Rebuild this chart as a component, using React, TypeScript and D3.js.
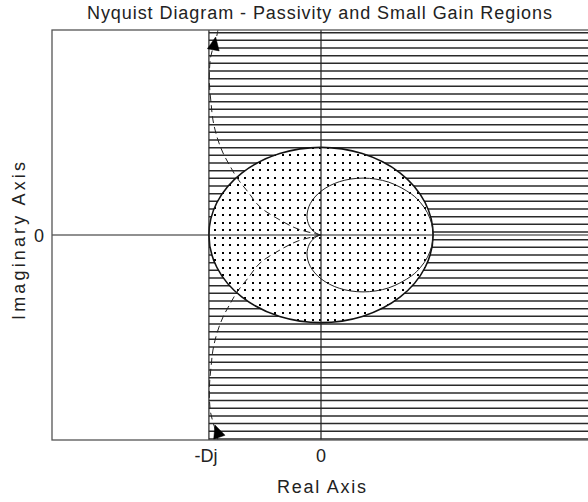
import React from "react";
import * as d3 from "d3";

// ---- data ----
const xDomain = [-2.4, 2.4];
const yDomain = [-2.34, 2.34];
const passivityBound = -1; // -Dj
const smallGainRadius = 1;
const xTickValues = [-1, 0];
const xTickLabels = ["-Dj", "0"];
const yTickValues = [0];
const yTickLabels = ["0"];

// Nyquist loop (solid)
const loopRe = [0, -0.0165, -0.058, -0.1036, -0.125, -0.0959, 0, 0.1629, 0.375, 0.6036, 0.808, 0.8887, 0.9494, 0.9872, 1, 0.9872, 0.9494, 0.8887, 0.808, 0.6036, 0.375, 0.1629, 0, -0.0959, -0.125, -0.1036, -0.058, -0.0165, 0];
const loopIm = [0, -0.0044, -0.0335, -0.1036, -0.2165, -0.358, -0.5, -0.608, -0.6495, -0.6036, -0.4665, -0.3681, -0.2544, -0.13, 0, 0.13, 0.2544, 0.3681, 0.4665, 0.6036, 0.6495, 0.608, 0.5, 0.358, 0.2165, 0.1036, 0.0335, 0.0044, 0];

// dashed branches (upper and lower), from origin outward
const dashUpRe = [0, -0.205, -0.366, -0.544, -0.651, -0.749, -0.812, -0.874, -0.928, -0.964, -0.981, -0.995, -0.995, -0.986, -0.964, -0.928, -0.92];
const dashUpIm = [0, 0.068, 0.171, 0.32, 0.491, 0.651, 0.788, 0.936, 1.119, 1.313, 1.507, 1.712, 1.884, 2.021, 2.135, 2.283, 2.34];
const dashLoRe = [0, -0.205, -0.366, -0.544, -0.651, -0.749, -0.812, -0.874, -0.928, -0.964, -0.981, -0.995, -0.995, -0.986, -0.964, -0.928, -0.92];
const dashLoIm = [0, -0.068, -0.171, -0.32, -0.491, -0.651, -0.788, -0.936, -1.119, -1.313, -1.507, -1.712, -1.884, -2.021, -2.135, -2.283, -2.34];

// arrows: tip and tail point in data coordinates
const arrowTips = [[-0.94, 2.26], [-0.946, -2.169]];
const arrowTails = [[-0.96, 2.12], [-0.906, -2.312]];

const W = 588;
const H = 502;
const left = 52, right = 590, top = 30, bottom = 440;

export default function App() {
  const x = d3.scaleLinear().domain(xDomain).range([left, right]);
  const y = d3.scaleLinear().domain(yDomain).range([bottom, top]);

  const line = d3
    .line<[number, number]>()
    .x((d) => x(d[0]))
    .y((d) => y(d[1]))
    .curve(d3.curveCatmullRom.alpha(0.5));

  const loopPts = loopRe.map((r, i) => [r, loopIm[i]] as [number, number]);
  const upPts = dashUpRe.map((r, i) => [r, dashUpIm[i]] as [number, number]);
  const loPts = dashLoRe.map((r, i) => [r, dashLoIm[i]] as [number, number]);

  // hatch lines (decorative pattern of passivity region)
  const hatchY = d3.range(32.7, bottom + 0.5, 7.665);
  // dot pattern of small gain disc
  const cx = x(0), cy = y(0);
  const rx = x(smallGainRadius) - x(0);
  const ry = y(0) - y(smallGainRadius);
  const dotXs = d3.range(215 - 7.5 * 2, cx + rx + 8, 7.5);
  const dotYs = d3.range(155 - 7.5 * 2, cy + ry + 8, 7.5);

  const arrows = arrowTips.map((tip, i) => {
    const tx = x(tip[0]), ty = y(tip[1]);
    const fx = x(arrowTails[i][0]), fy = y(arrowTails[i][1]);
    const dx = tx - fx, dy = ty - fy;
    const len = Math.hypot(dx, dy);
    const ux = dx / len, uy = dy / len;
    const nx = -uy, ny = ux;
    const L = 13, Wd = 6;
    const bx = tx - L * ux, by = ty - L * uy;
    return `M${tx},${ty}L${bx + Wd * nx},${by + Wd * ny}L${bx - Wd * nx},${by - Wd * ny}Z`;
  });

  const font = "'Liberation Sans', Arial, Helvetica, sans-serif";

  return (
    <svg
      width={W}
      height={H}
      style={{ position: "absolute", left: 0, top: 0, background: "#fff" }}
    >
      <defs>
        <clipPath id="axclip">
          <rect x={left} y={top} width={right - left} height={bottom - top} />
        </clipPath>
        <clipPath id="discclip">
          <ellipse cx={cx} cy={cy} rx={rx} ry={ry} />
        </clipPath>
      </defs>
      <rect x={0} y={0} width={W} height={H} fill="#fff" />
      <g clipPath="url(#axclip)">
        {/* passivity region hatch */}
        <g stroke="#2a2a2a" strokeWidth={1.5}>
          {hatchY.map((hy, i) => (
            <line key={i} x1={x(passivityBound)} x2={right} y1={hy} y2={hy} />
          ))}
        </g>
        {/* small gain disc */}
        <ellipse cx={cx} cy={cy} rx={rx} ry={ry} fill="#fff" />
        <g clipPath="url(#discclip)" fill="#000">
          {dotYs.map((dy, j) =>
            dotXs.map((dx, i) => (
              <rect key={`${i}-${j}`} x={Math.round(dx) - 1} y={Math.round(dy) - 1} width={2} height={2} />
            ))
          )}
        </g>
        <ellipse cx={cx} cy={cy} rx={rx} ry={ry} fill="none" stroke="#111" strokeWidth={1.6} />
        {/* passivity boundary */}
        <line x1={x(passivityBound)} x2={x(passivityBound)} y1={top} y2={bottom} stroke="#222" strokeWidth={1.2} />
        {/* zero lines */}
        <line x1={left} x2={right} y1={y(0)} y2={y(0)} stroke="#222" strokeWidth={1.2} />
        <line x1={x(0)} x2={x(0)} y1={top} y2={bottom} stroke="#222" strokeWidth={1.2} />
        {/* nyquist */}
        <path d={line(loopPts) || ""} fill="none" stroke="#222" strokeWidth={1} />
        <path d={line(upPts) || ""} fill="none" stroke="#222" strokeWidth={1} strokeDasharray="7,4" />
        <path d={line(loPts) || ""} fill="none" stroke="#222" strokeWidth={1} strokeDasharray="7,4" />
        {arrows.map((d, i) => (
          <path key={i} d={d} fill="#000" stroke="#000" strokeWidth={0.5} />
        ))}
      </g>
      {/* frame */}
      <rect x={left} y={top} width={right - left} height={bottom - top} fill="none" stroke="#555" strokeWidth={1.3} />
      {/* ticks labels */}
      <g fontFamily={font} fontSize={18} fill="#222">
        {xTickValues.map((v, i) => (
          <text key={i} x={x(v) - (i === 0 ? 3 : 0)} y={462} textAnchor="middle">
            {xTickLabels[i]}
          </text>
        ))}
        {yTickValues.map((v, i) => (
          <text key={i} x={44} y={y(v) + 6.5} textAnchor="end">
            {yTickLabels[i]}
          </text>
        ))}
        <text x={321.5} y={493} textAnchor="middle" textLength={89} lengthAdjust="spacing">
          Real Axis
        </text>
        <text
          transform={`translate(25,241) rotate(-90)`}
          textAnchor="middle"
          textLength={158}
          lengthAdjust="spacing"
        >
          Imaginary Axis
        </text>
        <text x={319.5} y={19} textAnchor="middle" textLength={465} lengthAdjust="spacing">
          Nyquist Diagram - Passivity and Small Gain Regions
        </text>
      </g>
    </svg>
  );
}
